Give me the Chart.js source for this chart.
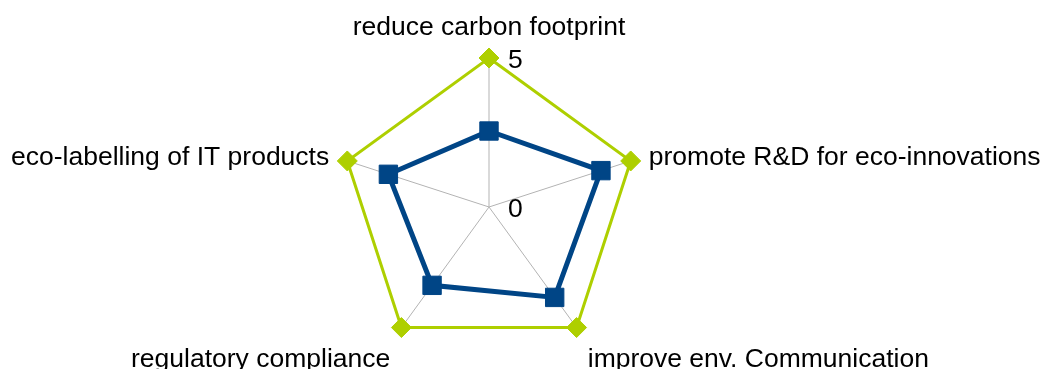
<!DOCTYPE html>
<html>
<head>
<meta charset="utf-8">
<script src="https://cdn.jsdelivr.net/npm/chart.js@4/dist/chart.umd.min.js"></script>
<style>
  html, body { margin: 0; padding: 0; background: #fff; }
  #wrap { width: 1045px; height: 369px; position: relative; }
</style>
</head>
<body>
<div id="wrap"><canvas id="chart"></canvas></div>
<script>
// categories around the radar, clockwise from top
const categorias = [
  'reduce carbon footprint',
  'promote R&D for eco-innovations',
  'improve env. Communication',
  'regulatory compliance',
  'eco-labelling of IT products'
];
const valoresAtual = [2.55, 3.95, 3.75, 3.25, 3.55];
const valoresMax = [5, 5, 5, 5, 5];
const ticksEscala = [0, 5];

const fonte = '26.5px "Liberation Sans", Arial, sans-serif';

// labels drawn like the original (side labels centred on the spoke)
const rotulosPlugin = {
  id: 'rotulos',
  afterDraw(chart) {
    const scale = chart.scales.r;
    const c = chart.ctx;
    c.save();
    c.font = fonte;
    c.fillStyle = '#000';
    c.textBaseline = 'alphabetic';
    categorias.forEach((txt, i) => {
      const p = scale.getPointPosition(i, scale.drawingArea + 19);
      const ang = scale.getIndexAngle(i);
      const cos = Math.cos(ang);
      let dy = 10;
      if (cos > 0.9) dy = -4;
      else if (cos < -0.5) dy = 24;
      if (Math.abs(p.x - scale.xCenter) < 1) c.textAlign = 'center';
      else c.textAlign = p.x > scale.xCenter ? 'left' : 'right';
      c.fillText(txt, p.x, p.y + dy);
    });
    c.textAlign = 'left';
    ticksEscala.forEach(v => {
      const p = scale.getPointPosition(0, scale.getDistanceFromCenterForValue(v));
      c.fillText(String(v), p.x + 19, p.y + 10);
    });
    c.restore();
  }
};

const ctx = document.getElementById('chart').getContext('2d');
new Chart(ctx, {
  type: 'radar',
  data: {
    labels: categorias,
    datasets: [
      {
        label: 'Atual',
        data: valoresAtual,
        borderColor: '#004586',
        backgroundColor: '#004586',
        borderWidth: 5,
        fill: false,
        clip: false,
        pointStyle: 'rect',
        pointRadius: 13,
        pointBorderWidth: 1,
        pointHoverRadius: 13
      },
      {
        label: 'Max',
        data: valoresMax,
        borderColor: '#aecf00',
        backgroundColor: '#aecf00',
        borderWidth: 3,
        fill: false,
        clip: false,
        pointStyle: 'rectRot',
        pointRadius: 10,
        pointBorderWidth: 1,
        pointHoverRadius: 10
      }
    ]
  },
  options: {
    responsive: true,
    maintainAspectRatio: false,
    animation: false,
    layout: { padding: { top: 58, bottom: 13, left: 0, right: 67 } },
    plugins: {
      legend: { display: false },
      tooltip: { enabled: false }
    },
    scales: {
      r: {
        min: 0,
        max: 5,
        grid: { display: false },
        angleLines: { color: '#b3b3b3', lineWidth: 1 },
        ticks: { display: false, stepSize: 5 },
        pointLabels: { display: false }
      }
    }
  },
  plugins: [rotulosPlugin]
});
</script>
</body>
</html>
